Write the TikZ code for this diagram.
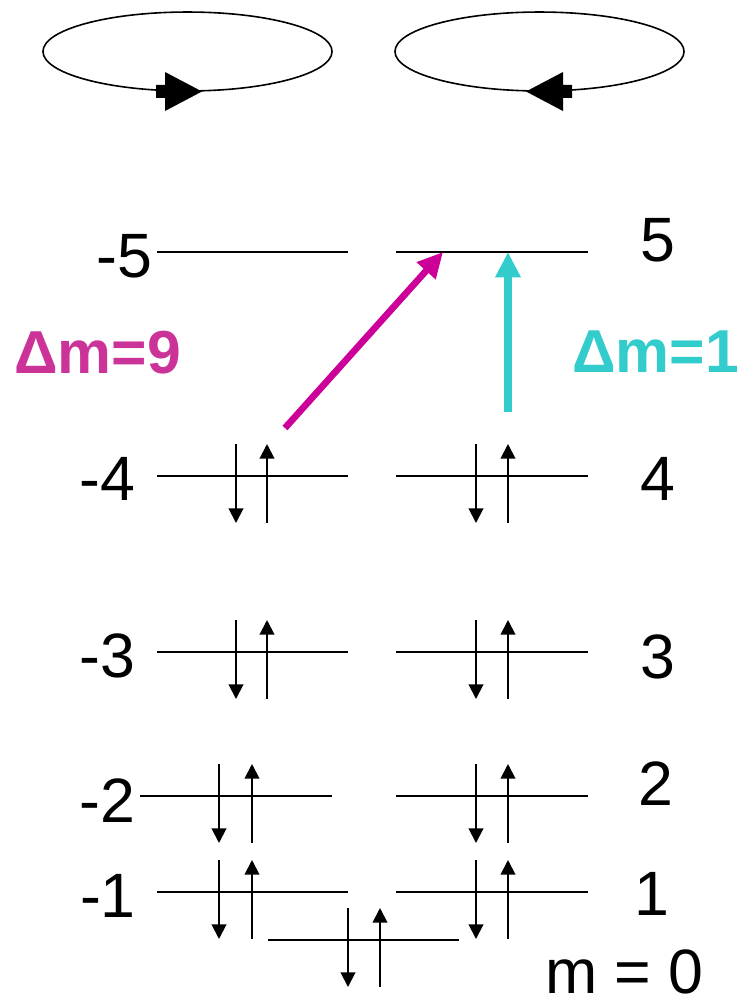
\documentclass[tikz,border=0pt]{standalone}
\usepackage{fontspec}
\setmainfont{Liberation Sans}
\usetikzlibrary{arrows.meta}
\definecolor{mag}{HTML}{CC0099}
\definecolor{magtext}{HTML}{CC3399}
\definecolor{cyn}{HTML}{33CCCC}
\begin{document}
\begin{tikzpicture}[x=0.75pt,y=-0.75pt,
 level/.style={line width=1.5pt},
 spin/.style={line width=1.5pt,-{Triangle[length=11pt,width=11pt]}},
 lbl/.style={inner sep=0pt,font=\fontsize{47}{47}\selectfont},
 dlbl/.style={inner sep=0pt,font=\fontsize{45.5}{46}\selectfont\bfseries},
 orbit/.style={line width=1.2pt},
 bigtip/.style={fill=black,draw=none},
 trans/.style={line width=5pt,-{Triangle[length=19pt,width=18pt]}}]
\useasboundingbox (0,0) rectangle (738,998);

% orbits
\draw[orbit] (187.5,51.5) ellipse [x radius=108.4pt, y radius=29.6pt];
\draw[orbit] (539.5,51.5) ellipse [x radius=108.4pt, y radius=29.6pt];
\fill[bigtip] (156,85) -- (165,85) -- (165,72) -- (202,91.5) -- (165,111) -- (165,98) -- (156,98) -- cycle;
\fill[bigtip] (572,85) -- (563,85) -- (563,72) -- (526,91.5) -- (563,111) -- (563,98) -- (572,98) -- cycle;

% level lines
\coordinate (L5a) at (157,252); \coordinate (L5b) at (348,252);
\coordinate (R5a) at (396,252); \coordinate (R5b) at (588,252);
\coordinate (L4a) at (157,476); \coordinate (L4b) at (348,476);
\coordinate (R4a) at (396,476); \coordinate (R4b) at (588,476);
\coordinate (L3a) at (157,652); \coordinate (L3b) at (348,652);
\coordinate (R3a) at (396,652); \coordinate (R3b) at (588,652);
\coordinate (L2a) at (140,796); \coordinate (L2b) at (332,796);
\coordinate (R2a) at (396,796); \coordinate (R2b) at (588,796);
\coordinate (L1a) at (157,892); \coordinate (L1b) at (348,892);
\coordinate (R1a) at (396,892); \coordinate (R1b) at (588,892);
\coordinate (Z0a) at (268,940); \coordinate (Z0b) at (459,940);
\foreach \n in {L5,R5,L4,R4,L3,R3,L2,R2,L1,R1,Z0}
  \draw[level] (\n a) -- (\n b);

% spin pairs: down x, up x, level y
\foreach \d/\u/\y in {236/267/476, 476/508/476, 236/267/652, 476/508/652,
                      219/252/796, 476/508/796, 219/252/892, 476/508/892, 348/380/940}{
  \draw[spin] (\d,\y-32) -- (\d,\y+47);
  \draw[spin] (\u,\y+47) -- (\u,\y-32);
}

% labels
\node[lbl,anchor=base east] (lm5) at (152.5,277) {-5};
\node[lbl,anchor=base east] (lm4) at (135.5,500) {-4};
\node[lbl,anchor=base east] (lm3) at (135.5,677) {-3};
\node[lbl,anchor=base east] (lm2) at (135.5,822) {-2};
\node[lbl,anchor=base east] (lm1) at (136,917) {-1};
\node[lbl,anchor=base west] (lp5) at (640,262) {5};
\node[lbl,anchor=base west] (lp4) at (640,500) {4};
\node[lbl,anchor=base west] (lp3) at (640,678) {3};
\node[lbl,anchor=base west] (lp2) at (638,805) {2};
\node[lbl,anchor=base west] (lp1) at (634,915) {1};
\node[lbl,anchor=base west,text depth=0pt] (lm0) at (545,993) {m = 0};

\node[dlbl,anchor=base west,text=magtext] (d9) at (14,373) {Δm=9};
\node[dlbl,anchor=base west,text=cyn] (d1) at (572,372) {Δm=1};

% transitions
\coordinate (t9s) at (285,428); \coordinate (t9e) at (443,252);
\coordinate (t1s) at (508,412); \coordinate (t1e) at (508,252);
\draw[trans,mag] (t9s) -- (t9e);
\draw[trans,cyn,line width=6pt] (t1s) -- (t1e);
\end{tikzpicture}
\end{document}
